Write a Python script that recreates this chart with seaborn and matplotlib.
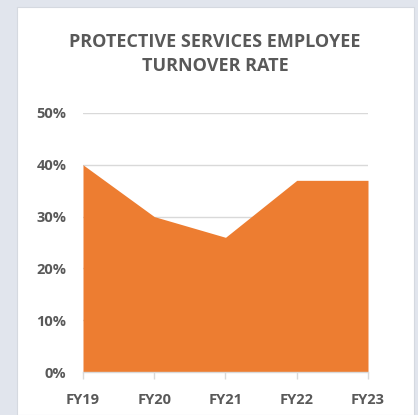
import matplotlib
matplotlib.use("Agg")
import matplotlib.pyplot as plt
from matplotlib.patches import Rectangle
from matplotlib.ticker import PercentFormatter
import seaborn as sns
import pandas as pd

years = ["FY19", "FY20", "FY21", "FY22", "FY23"]
turnover = [0.40, 0.30, 0.26, 0.37, 0.37]
y_ticks = [0.0, 0.1, 0.2, 0.3, 0.4, 0.5]

sns.set_theme(style="white")
plt.rcParams['font.family'] = ['Open Sans', 'DejaVu Sans']

df = pd.DataFrame({"year": years, "rate": turnover})
df["pos"] = range(len(df))

fig = plt.figure(figsize=(4.18, 4.15), dpi=100)
fig.patch.set_facecolor("#e1e5ed")
# white card behind the chart
fig.patches.append(Rectangle((17 / 418, 0), (414 - 17) / 418, 1 - 7 / 415,
                             transform=fig.transFigure, facecolor="white",
                             edgecolor="#d5d9e0", linewidth=0.8, zorder=-1))

ax = fig.add_axes([83 / 418, 1 - 372 / 415, (368 - 83) / 418, (372 - 113) / 415])
ax.set_facecolor("none")
ax.set_zorder(2)

sns.lineplot(data=df, x="pos", y="rate", ax=ax, color="#ED7D31", linewidth=0, zorder=3)
ax.fill_between(df["pos"], df["rate"], color="#ED7D31", linewidth=0, zorder=3)

ax.set_xlim(0, len(years) - 1)
ax.set_ylim(0, 0.5)
ax.set_yticks(y_ticks)
ax.yaxis.set_major_formatter(PercentFormatter(1.0, decimals=0))
ax.set_xticks(df["pos"])
ax.set_xticklabels(years)
ax.grid(axis="y", color="#d9d9d9", linewidth=1, zorder=1)
ax.set_axisbelow(True)
ax.set_xlabel("")
ax.set_ylabel("")

for side in ["top", "right", "left"]:
    ax.spines[side].set_visible(False)
ax.spines["bottom"].set_color("#d9d9d9")
ax.spines["bottom"].set_linewidth(1)
ax.spines["bottom"].set_zorder(4)

ax.tick_params(axis="x", bottom=True, length=5, width=1, color="#d9d9d9",
               labelsize=10.5, labelcolor="#595959", pad=10)
ax.tick_params(axis="y", left=False, length=0, labelsize=10.5, labelcolor="#595959", pad=12)
for lbl in ax.get_xticklabels() + ax.get_yticklabels():
    lbl.set_fontweight("bold")

fig.text(215 / 418, 1 - 54 / 415, "PROTECTIVE SERVICES EMPLOYEE\nTURNOVER RATE",
         ha="center", va="center", fontsize=13, fontweight="bold",
         color="#595959", linespacing=1.4)

fig.savefig("out.png", dpi=100)
